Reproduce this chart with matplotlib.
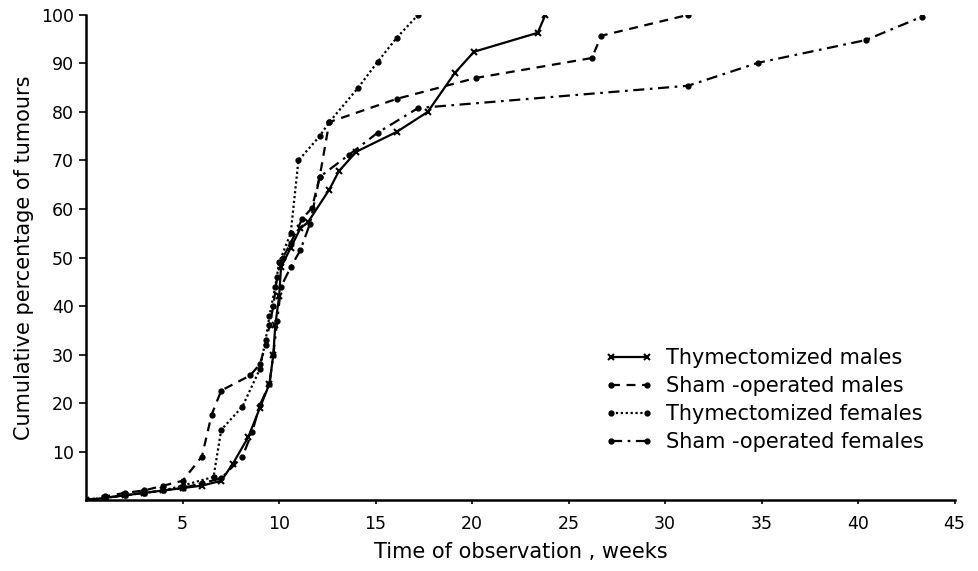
import matplotlib
matplotlib.use("Agg")
import matplotlib.pyplot as plt

# weeks / cumulative %
thy_m_weeks = [0, 1, 2, 3, 4, 5, 6, 7.0, 7.6, 8.4, 9.0, 9.5, 9.7, 9.8, 10.0, 10.1,
               10.6, 11.1, 11.5, 12.6, 13.1, 14.0, 16.1, 17.7, 19.1, 20.1, 23.4, 23.8]
thy_m_pct = [0, 0.5, 1, 1.5, 2, 2.5, 3, 4, 7.5, 13, 19, 24, 30, 36, 42, 48,
             52, 56, 57.3, 64, 67.8, 71.8, 75.9, 80, 88, 92.4, 96.3, 100]

sham_m_weeks = [0, 1, 2, 3, 4, 5, 6.0, 6.5, 7.0, 8.5, 9.0, 9.3, 9.5, 9.7, 9.9, 10.2,
                10.6, 11.2, 11.7, 12.1, 12.6, 16.1, 20.2, 26.2, 26.7, 31.2]
sham_m_pct = [0, 0.8, 1.5, 2, 3, 4, 9, 17.6, 22.6, 25.7, 28, 32, 36, 40, 46, 50,
              53, 58, 60.2, 66.6, 77.9, 82.7, 87, 91.1, 95.7, 100]

thy_f_weeks = [0, 1, 2, 3, 4, 5, 6.6, 7.0, 8.1, 9.0, 9.3, 9.5, 9.8, 10.0, 10.6,
               11.0, 12.1, 12.6, 14.1, 15.1, 16.1, 17.2]
thy_f_pct = [0, 0.5, 1, 1.5, 2, 3, 4.8, 14.5, 19.3, 27, 33, 38, 44, 49, 55,
             70, 75, 77.9, 85, 90.3, 95.3, 100]

sham_f_weeks = [0, 1, 2, 3, 4, 5, 6, 7, 8.1, 8.6, 9.0, 9.5, 9.7, 9.9, 10.1, 10.6,
                11.1, 11.6, 12.1, 13.6, 15.1, 17.2, 31.2, 34.8, 40.4, 43.3]
sham_f_pct = [0, 0.5, 1, 1.5, 2, 2.5, 3.5, 4.5, 9, 14, 19.6, 24, 30, 37, 44, 48,
              51.5, 57, 66.6, 71.1, 75.7, 80.8, 85.4, 90.1, 94.8, 99.6]

labels = ["Thymectomized males", "Sham -operated males",
          "Thymectomized females", "Sham -operated females"]

plt.rcParams['font.family'] = ['DejaVu Sans']

fig = plt.figure(figsize=(9.79, 5.71), dpi=100)
ax = fig.add_axes([0.088, 0.124, 0.887, 0.850])

ax.plot(thy_m_weeks, thy_m_pct, color='black', lw=1.6, linestyle='-',
        marker='x', markersize=4, mew=1.5, label=labels[0])
ax.plot(sham_m_weeks, sham_m_pct, color='black', lw=1.6, linestyle=(0, (4, 3)),
        marker='o', markersize=3.5, label=labels[1])
ax.plot(thy_f_weeks, thy_f_pct, color='black', lw=1.6, linestyle=(0, (1, 1.2)),
        marker='o', markersize=3.5, label=labels[2])
ax.plot(sham_f_weeks, sham_f_pct, color='black', lw=1.6, linestyle=(0, (5, 2.5, 1.2, 2.5)),
        marker='o', markersize=3.5, label=labels[3])

ax.set_xlim(0, 45)
ax.set_ylim(0, 100)
ax.set_xticks(range(5, 50, 5))
ax.set_yticks(range(10, 110, 10))
ax.spines['top'].set_visible(False)
ax.spines['right'].set_visible(False)
ax.spines['left'].set_linewidth(1.8)
ax.spines['bottom'].set_linewidth(1.8)
ax.tick_params(axis='y', direction='out', length=5, width=1.2, labelsize=12.5, pad=4)
ax.tick_params(axis='x', direction='out', length=3, width=1.2, labelsize=12.5, pad=8)

ax.set_xlabel("Time of observation , weeks", fontsize=15, labelpad=6)
ax.set_ylabel("Cumulative percentage of tumours", fontsize=15, labelpad=5)

ax.legend(loc='upper left', bbox_to_anchor=(0.588, 0.33), frameon=False,
          fontsize=15, numpoints=2, handlelength=2.3, handletextpad=0.6,
          labelspacing=0.38, borderaxespad=0)

fig.savefig("out.png", dpi=100)
